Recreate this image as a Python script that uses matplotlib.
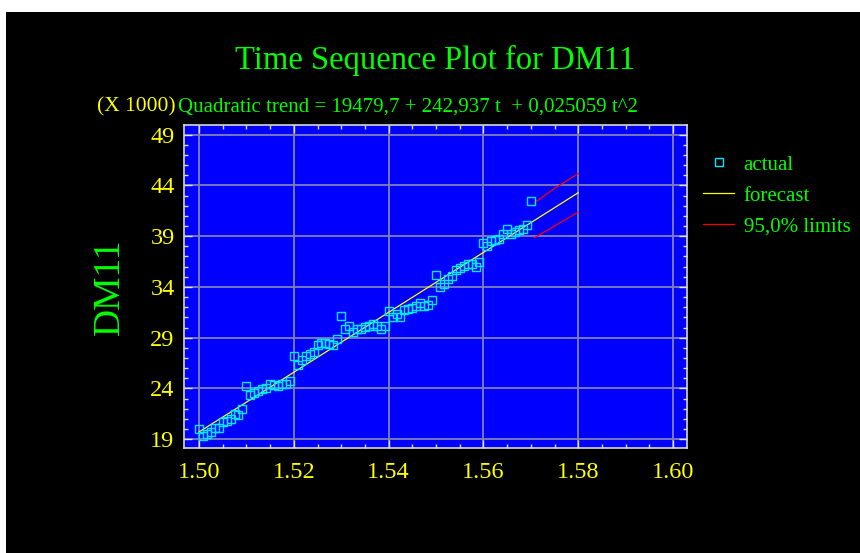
import numpy as np
import matplotlib
matplotlib.use("Agg")
import matplotlib.pyplot as plt
from matplotlib.patches import Rectangle
from matplotlib.ticker import MultipleLocator, FormatStrFormatter

# actual values (x 1000), monthly steps from 1.50
actual = [20.01, 19.35, 19.52, 19.75, 20.08, 20.10, 20.70, 20.83, 21.03, 21.49,
          21.42, 21.95, 24.24, 23.33, 23.52, 23.75, 23.98, 24.07, 24.41, 24.34,
          24.24, 24.41, 24.41, 24.70, 27.16, 26.34, 26.80, 27.19, 27.39, 27.61,
          28.27, 28.47, 28.50, 28.34, 28.24, 28.86, 31.15, 29.88, 30.17, 29.55,
          29.88, 29.85, 30.07, 30.17, 30.34, 30.17, 29.82, 30.17, 31.62, 31.03,
          31.29, 31.03, 31.72, 31.78, 31.88, 32.11, 32.40, 32.11, 32.18, 32.73,
          35.19, 34.00, 34.27, 34.76, 35.12, 35.65, 35.87, 36.07, 36.24, 36.24,
          35.97, 36.46, 38.37, 38.00, 38.53, 38.60, 38.72, 39.22, 39.68, 39.26,
          39.38, 39.58, 39.68, 40.14, 42.50]
x_actual = 1.50 + np.arange(len(actual)) / 1200

# trend / forecast line
trend_x = [1.50, 1.51, 1.52, 1.53, 1.54, 1.55, 1.56, 1.57, 1.58]
trend_y = [19.72, 22.65, 25.60, 28.55, 31.50, 34.45, 37.40, 40.33, 43.28]

# 95% limits
lim_x = [1.5708, 1.5750, 1.5800]
upper = [42.30, 43.70, 45.16]
lower = [38.86, 40.00, 41.38]

yticks = [19, 24, 29, 34, 39, 44, 49]
xticks = [1.50, 1.52, 1.54, 1.56, 1.58, 1.60]

GREEN = "#00ff00"
YELLOW = "#ffff00"
SERIF = "Liberation Serif"

fig = plt.figure(figsize=(8.6, 5.53), dpi=100, facecolor="white")
fig.patches.append(Rectangle((6 / 860, 0), 1, 1 - 12 / 553, transform=fig.transFigure,
                             facecolor="black", edgecolor="none", zorder=-10))

ax = fig.add_axes([184.3 / 860, 104.7 / 553, 502.7 / 860, 323.3 / 553])
ax.set_facecolor("#0000ff")

ax.plot(trend_x, trend_y, color=YELLOW, lw=0.9, label="forecast", zorder=3)
ax.plot(lim_x, upper, color="#ff0000", lw=0.9, label="95,0% limits", zorder=3)
ax.plot(lim_x, lower, color="#ff0000", lw=0.9, zorder=3)
ax.plot(x_actual, actual, ls="none", marker="s", ms=5.4, mfc="none", mec="#00e8ff",
        mew=1.0, label="actual", zorder=4)

ax.set_xlim(1.4969, 1.60295)
ax.set_ylim(18.11, 49.95)
ax.set_xticks(xticks)
ax.set_yticks(yticks)
ax.xaxis.set_minor_locator(MultipleLocator(0.005))
ax.yaxis.set_minor_locator(MultipleLocator(1))
ax.xaxis.set_major_formatter(FormatStrFormatter("%.2f"))
ax.grid(True, which="major", color="#8080b8", lw=1.3)
ax.set_axisbelow(True)
ax.tick_params(which="both", direction="in", top=True, right=True, color="#e0e0e0",
               labelcolor=YELLOW, labelsize=17.5, pad=7)
ax.tick_params(axis="x", pad=10)
ax.tick_params(which="major", length=6, width=1)
ax.tick_params(which="minor", length=3, width=1)
for lab in ax.get_xticklabels() + ax.get_yticklabels():
    lab.set_family(SERIF)
for s in ax.spines.values():
    s.set_color("#d8d8d8")
    s.set_linewidth(1.2)

fig.text(435.5 / 860, 1 - 60 / 553, "Time Sequence Plot for DM11", color=GREEN,
         family=SERIF, fontsize=23.5, ha="center", va="center")
fig.text(176 / 860, 1 - 107 / 553, "(X 1000)", color=YELLOW, family=SERIF,
         fontsize=15.5, ha="right", va="center")
fig.text(178 / 860, 1 - 107 / 553, "Quadratic trend = 19479,7 + 242,937 t  + 0,025059 t^2",
         color=GREEN, family=SERIF, fontsize=15, ha="left", va="center")
fig.text(110 / 860, 1 - 287 / 553, "DM11", color=GREEN, family=SERIF, fontsize=27,
         rotation=90, ha="center", va="center")

h, l = ax.get_legend_handles_labels()
order = [2, 0, 1]
leg = fig.legend([h[i] for i in order], [l[i] for i in order], loc="upper left",
                 bbox_to_anchor=(703 / 860, 1 - 155 / 553), frameon=False,
                 prop={"family": SERIF, "size": 15}, handlelength=1.5,
                 handletextpad=0.45, labelspacing=0.55, borderaxespad=0,
                 borderpad=0)
for t in leg.get_texts():
    t.set_color(GREEN)

fig.savefig("out.png", dpi=100, facecolor=fig.get_facecolor())
